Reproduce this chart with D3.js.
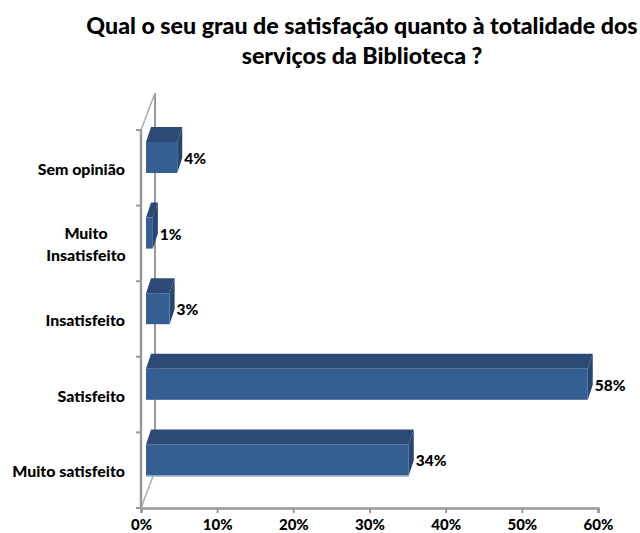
<!DOCTYPE html>
<html>
<head>
<meta charset="utf-8">
<script src="https://d3js.org/d3.v7.min.js"></script>
<style>
  body { margin: 0; background: #fff; }
  svg { display: block; }
  text { font-family: Lato, "Open Sans", sans-serif; font-weight: 900; fill: #000; }
</style>
</head>
<body>
<div id="chart"></div>
<script>
// Values, top row first
var categories = ["Sem opinião", "Muito insatisfeito", "Insatisfeito", "Satisfeito", "Muito satisfeito"];
var values = [4.1, 0.9, 3.1, 58, 34.5];
var valueLabels = ["4%", "1%", "3%", "58%", "34%"];
var xTicks = [0, 10, 20, 30, 40, 50, 60];
var titleLines = ["Qual o seu grau de satisfação quanto à totalidade dos", "serviços da Biblioteca ?"];

var svg = d3.select("#chart").append("svg")
    .attr("width", 640)
    .attr("height", 533);

// Scales
var xScale = d3.scaleLinear().domain([0, 60]).range([141, 598]);
var yScale = d3.scaleBand().domain(categories).range([130, 508]);

// 3D offsets of the chart box and of the bars
var wallDx = 14, wallDy = 37;
var barDx = 5, barDy = 15;
var barInset = 12, barHeight = 31;

var axisColor = "#999999";

// Title
svg.append("g").selectAll("text")
    .data(titleLines)
    .enter()
    .append("text")
    .attr("x", 362)
    .attr("y", (d, i) => 34 + i * 30)
    .attr("text-anchor", "middle")
    .style("font-size", "23.2px")
    .text(d => d);

// Back wall and the two slanted edges
var x0 = xScale(0), yTop = yScale.range()[0], yBottom = yScale.range()[1];
svg.append("line")
    .attr("x1", x0 + wallDx).attr("x2", x0 + wallDx)
    .attr("y1", yTop - wallDy).attr("y2", yBottom - wallDy)
    .attr("stroke", axisColor).attr("stroke-width", 2);
[yTop, yBottom].forEach(function (y) {
    svg.append("line")
        .attr("x1", x0).attr("y1", y)
        .attr("x2", x0 + wallDx).attr("y2", y - wallDy)
        .attr("stroke", "#aaaaaa").attr("stroke-width", 1.5);
});

// Left axis
svg.append("line")
    .attr("x1", x0).attr("x2", x0)
    .attr("y1", yTop).attr("y2", yBottom)
    .attr("stroke", axisColor).attr("stroke-width", 2.5);
svg.append("g").selectAll("line")
    .data(categories.concat(["end"]))
    .enter()
    .append("line")
    .attr("x1", x0 - 5).attr("x2", x0)
    .attr("y1", (d, i) => yTop + i * yScale.step())
    .attr("y2", (d, i) => yTop + i * yScale.step())
    .attr("stroke", axisColor).attr("stroke-width", 2);

// Bottom axis
var xAxis = d3.axisBottom(xScale)
    .tickValues(xTicks)
    .tickSize(5)
    .tickPadding(6)
    .tickFormat(d => d + "%");
var xAxisG = svg.append("g")
    .attr("transform", "translate(0," + yBottom + ")")
    .call(xAxis);
xAxisG.select(".domain").attr("stroke", axisColor).attr("stroke-width", 2.5);
xAxisG.selectAll(".tick line").attr("stroke", axisColor).attr("stroke-width", 2);
xAxisG.selectAll("text")
    .attr("fill", "#000")
    .style("font-size", "15px")
    .style("font-family", "Lato, sans-serif")
    .style("font-weight", "900");

// Category labels, the long one is wrapped
var catLabels = svg.append("g").selectAll("text")
    .data(categories)
    .enter()
    .append("text")
    .style("font-size", "15.9px");
catLabels.each(function (d) {
    var wrapped = d == "Muito insatisfeito";
    var lines = wrapped ? ["Muito", "Insatisfeito"] : [d];
    var yMid = yScale(d) + (wrapped ? 33 : 45);
    d3.select(this)
        .attr("text-anchor", wrapped ? "middle" : "end")
        .selectAll("tspan")
        .data(lines)
        .enter()
        .append("tspan")
        .attr("x", wrapped ? 86 : 125)
        .attr("y", (l, i) => yMid + i * 22)
        .text(l => l);
});

// Bars: top, side and front faces
var bars = svg.append("g").selectAll("g")
    .data(categories)
    .enter()
    .append("g");

function poly(points) {
    return d3.line()(points) + "Z";
}

bars.each(function (d, i) {
    var left = xScale(0) + barDx;
    var right = xScale(values[i]) + barDx;
    var top = yScale(d) + barInset;
    var bottom = top + barHeight;
    var g = d3.select(this);
    // thin highlight under the front face, only shows on the last bar
    if (i == categories.length - 1) {
        g.append("rect")
            .attr("x", left).attr("y", bottom)
            .attr("width", right - left).attr("height", 1.5)
            .attr("fill", "#a9bfdb");
    }
    g.append("path")
        .attr("d", poly([[left, top], [left + barDx, top - barDy], [right + barDx, top - barDy], [right, top]]))
        .attr("fill", "#2c4a75");
    g.append("path")
        .attr("d", poly([[right, top], [right + barDx, top - barDy], [right + barDx, bottom - barDy], [right, bottom]]))
        .attr("fill", "#254670");
    g.append("rect")
        .attr("x", left).attr("y", top)
        .attr("width", right - left).attr("height", barHeight)
        .attr("fill", "#355f93");
});

// Value labels
svg.append("g").selectAll("text")
    .data(categories)
    .enter()
    .append("text")
    .attr("x", (d, i) => xScale(values[i]) + barDx + 7)
    .attr("y", d => yScale(d) + 34)
    .style("font-size", "15.5px")
    .text((d, i) => valueLabels[i]);
</script>
</body>
</html>
